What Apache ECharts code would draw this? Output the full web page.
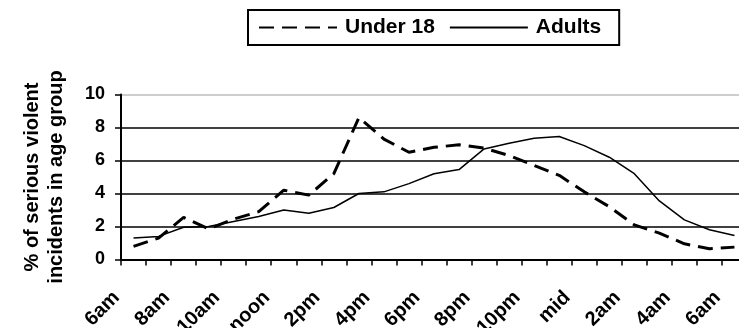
<!DOCTYPE html>
<html>
<head>
<meta charset="utf-8">
<script src="https://cdn.jsdelivr.net/npm/echarts@6/dist/echarts.min.js"></script>
<style>
  html, body { margin: 0; padding: 0; background: #fff; }
  #chart { width: 739px; height: 328px; }
</style>
</head>
<body>
<div id="chart"></div>
<script>
// Hour of day, 6am through to 6am the next morning
const hours = ['6am', '7am', '8am', '9am', '10am', '11am', 'noon', '1pm', '2pm', '3pm',
  '4pm', '5pm', '6pm', '7pm', '8pm', '9pm', '10pm', '11pm', 'mid', '1am',
  '2am', '3am', '4am', '5am', '6am'];

// Share of serious violent incidents (%) occurring in each hour
const under18 = [0.8, 1.3, 2.55, 1.85, 2.45, 2.9, 4.2, 3.9, 5.2, 8.6,
  7.3, 6.5, 6.8, 6.95, 6.75, 6.3, 5.7, 5.1, 4.1, 3.2,
  2.1, 1.6, 0.95, 0.65, 0.75];
const adults = [1.3, 1.4, 1.95, 2.0, 2.3, 2.6, 3.0, 2.8, 3.15, 4.0,
  4.1, 4.6, 5.2, 5.45, 6.7, 7.05, 7.35, 7.45, 6.9, 6.2,
  5.2, 3.55, 2.4, 1.8, 1.45];

const yTicks = { min: 0, max: 10, step: 2 };

const font = '"Liberation Sans", Arial, sans-serif';
const chart = echarts.init(document.getElementById('chart'), null, { renderer: 'canvas' });

chart.setOption({
  animation: false,
  backgroundColor: '#fff',
  textStyle: { fontFamily: font },
  legend: {
    left: 248,
    top: 10,
    padding: [7, 18, 7, 10],
    borderColor: '#000',
    borderWidth: 2,
    backgroundColor: '#fff',
    itemWidth: 78,
    itemHeight: 14,
    itemGap: 14,
    lineStyle: { width: 2 },
    // line-only keys, no marker dot
    itemStyle: { opacity: 0 },
    textStyle: {
      fontFamily: font,
      fontSize: 21,
      fontWeight: 'bold',
      color: '#000',
      padding: [0, 0, 0, 3]
    },
    data: ['Under 18', 'Adults']
  },
  grid: {
    left: 121,
    top: 94.5,
    width: 626,
    height: 165,
    containLabel: false,
    outerBoundsMode: 'none'
  },
  xAxis: {
    type: 'category',
    data: hours,
    boundaryGap: true,
    axisLine: { show: true, lineStyle: { color: '#000', width: 2 } },
    axisTick: { show: true, interval: 0, length: 6, lineStyle: { color: '#000', width: 1.5 } },
    axisLabel: {
      interval: 1,
      rotate: 45,
      margin: 18,
      padding: [0, 24, 0, 0],
      fontFamily: font,
      fontSize: 20,
      fontWeight: 'bold',
      color: '#000'
    },
    splitLine: { show: false }
  },
  yAxis: {
    type: 'value',
    min: yTicks.min,
    max: yTicks.max,
    interval: yTicks.step,
    name: '% of serious violent\nincidents in age group',
    nameLocation: 'middle',
    nameGap: 53,
    nameTextStyle: {
      fontFamily: font,
      fontSize: 20,
      fontWeight: 'bold',
      color: '#000',
      lineHeight: 24
    },
    axisLine: { show: true, lineStyle: { color: '#000', width: 2 } },
    axisTick: { show: true, length: 6, lineStyle: { color: '#000', width: 1.5 } },
    axisLabel: {
      margin: 16,
      fontFamily: font,
      fontSize: 18,
      fontWeight: 'bold',
      color: '#000'
    },
    splitLine: {
      show: true,
      lineStyle: {
        color: ['#000', '#000', '#000', '#000', '#000', '#bdbdbd'],
        width: 1.5
      }
    }
  },
  series: [
    {
      name: 'Under 18',
      type: 'line',
      data: under18,
      symbol: 'none',
      lineStyle: { color: '#000', width: 3, type: [15, 8] },
      itemStyle: { color: '#000' },
      z: 3
    },
    {
      name: 'Adults',
      type: 'line',
      data: adults,
      symbol: 'none',
      lineStyle: { color: '#000', width: 1.5, type: 'solid' },
      itemStyle: { color: '#000' },
      z: 2
    }
  ]
});
</script>
</body>
</html>
